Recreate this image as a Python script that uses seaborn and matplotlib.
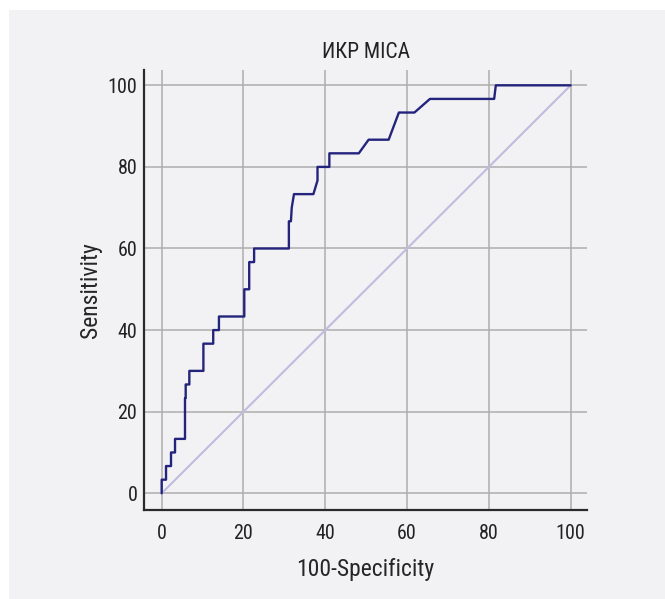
import numpy as np
import pandas as pd
import matplotlib
matplotlib.use("Agg")
import matplotlib.pyplot as plt
import seaborn as sns
from matplotlib import font_manager
from matplotlib.patches import Rectangle
from matplotlib.ticker import MultipleLocator

# ROC curve points (100-Specificity, Sensitivity)
fpr = [0, 0, 1.06, 1.06, 2.28, 2.28, 3.26, 3.26, 5.7, 5.7, 5.87, 5.87, 6.76, 6.76,
       10.2, 10.2, 12.6, 12.6, 14.0, 14.0, 20.2, 20.2, 21.4, 21.4, 22.6, 22.6,
       31.1, 31.1, 31.6, 31.8, 32.35, 37.1, 38.1, 38.1, 41.0, 41.0, 48.2, 50.6,
       55.5, 58.0, 61.8, 65.6, 81.3, 81.7, 100]
tpr = [0, 3.33, 3.33, 6.67, 6.67, 10, 10, 13.33, 13.33, 23.33, 23.33, 26.67, 26.67, 30,
       30, 36.67, 36.67, 40, 40, 43.33, 43.33, 50, 50, 56.67, 56.67, 60,
       60, 66.67, 66.67, 70, 73.33, 73.33, 76.67, 80, 80, 83.33, 83.33, 86.67,
       86.67, 93.33, 93.33, 96.67, 96.67, 100, 100]
diag = [0, 100]

roc = pd.DataFrame({"fpr": fpr, "tpr": tpr, "step": np.arange(len(fpr))})
ref = pd.DataFrame({"x": diag, "y": diag})

# pick a narrow font if one is there
names = {f.name for f in font_manager.fontManager.ttflist}
font = 'Lato'
for cand in ['Liberation Sans Narrow', 'Roboto Condensed', 'Open Sans Condensed', 'Lato']:
    if cand in names:
        font = cand
        break
narrow = font != 'Lato'

sns.set_style("whitegrid")
plt.rcParams['font.family'] = [font, 'DejaVu Sans']
plt.rcParams['text.color'] = '#222222'

bg = '#f2f2f5'
fig = plt.figure(figsize=(6.65, 5.99), dpi=100, facecolor='white')
fig.patches.append(Rectangle((9 / 665, 0), 1 - 9 / 665, 1 - 10 / 599,
                             transform=fig.transFigure, facecolor=bg,
                             edgecolor='none', zorder=-10))
ax = fig.add_axes([0.217, 0.1486, 0.8827 - 0.217, 0.8831 - 0.1486])
ax.set_facecolor(bg)

sns.lineplot(data=ref, x="x", y="y", ax=ax, color='#bfbce0', linewidth=1.5, zorder=2)
sns.lineplot(data=roc, x="fpr", y="tpr", ax=ax, sort=False, estimator=None,
             color='#24247c', linewidth=1.7, zorder=3)

ax.set_xlim(-4.25, 104.0)
ax.set_ylim(-4.1, 103.75)
ax.xaxis.set_major_locator(MultipleLocator(20))
ax.yaxis.set_major_locator(MultipleLocator(20))
ax.xaxis.set_minor_locator(MultipleLocator(5))
ax.yaxis.set_minor_locator(MultipleLocator(5))
ax.grid(True, which='major', color='#adadad', linewidth=1.1)
ax.grid(False, which='minor')
ax.set_axisbelow(True)

for side in ['top', 'right']:
    ax.spines[side].set_visible(False)
for side in ['left', 'bottom']:
    ax.spines[side].set_color('#2a2a2a')
    ax.spines[side].set_linewidth(1.6)

tick_fs = 14.5 if narrow else 12.5
lab_fs = 17 if narrow else 15
ax.tick_params(which='major', direction='in', length=11, width=1.6, color='#2a2a2a',
               labelsize=tick_fs, labelcolor='#222222')
ax.tick_params(which='minor', direction='in', length=7.5, width=1.0, color='#2a2a2a')
ax.tick_params(axis='x', which='major', pad=10)
ax.tick_params(axis='y', which='major', pad=5)

ax.set_title("ИКР MICA", fontsize=lab_fs - 1.5, pad=9)
ax.set_xlabel("100-Specificity", fontsize=lab_fs, labelpad=11)
ax.set_ylabel("Sensitivity", fontsize=lab_fs, labelpad=4)

fig.savefig("out.png", dpi=100, facecolor=fig.get_facecolor())
